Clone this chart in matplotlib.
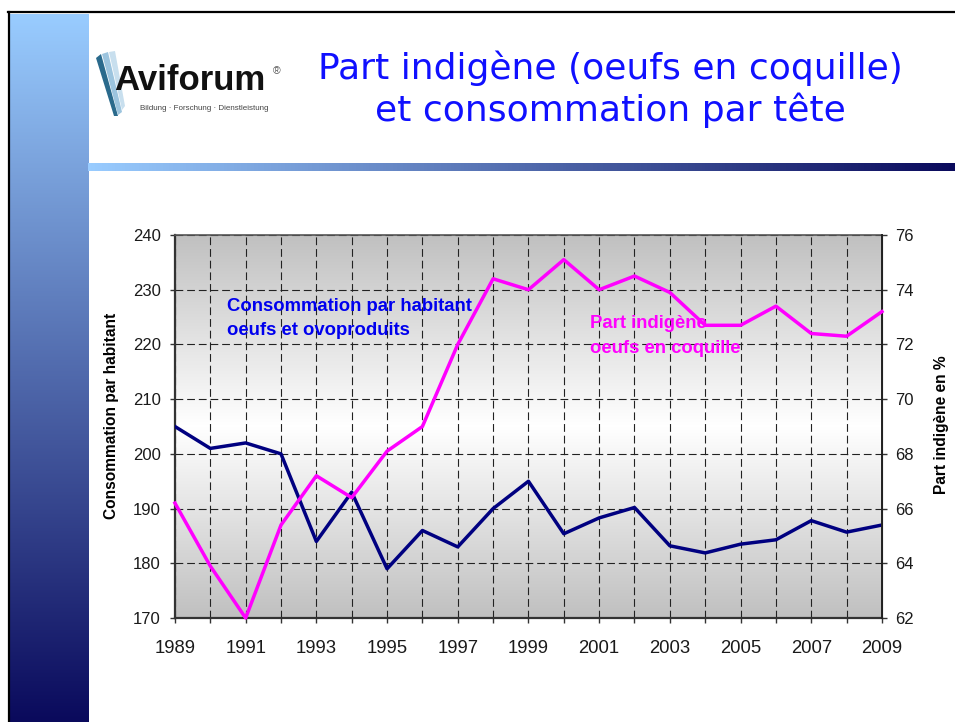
import numpy as np
import matplotlib
matplotlib.use("Agg")
import matplotlib.pyplot as plt
from matplotlib.colors import LinearSegmentedColormap
from matplotlib.patches import Polygon

# data
years = list(range(1989, 2010))
consommation = [205, 201, 202, 200, 184, 193, 179, 186, 183, 190, 195,
                185.4, 188.3, 190.2, 183.2, 181.9, 183.5, 184.3, 187.8, 185.7, 187]
part_indigene = [66.2, 63.9, 62.0, 65.4, 67.2, 66.4, 68.1, 69.0, 72.0, 74.4, 74.0,
                 75.1, 74.0, 74.5, 73.9, 72.7, 72.7, 73.4, 72.4, 72.3, 73.2]
left_ticks = [170, 180, 190, 200, 210, 220, 230, 240]
right_ticks = [62, 64, 66, 68, 70, 72, 74, 76]
xtick_labels = [str(y) if y % 2 == 1 else "" for y in years]

title_1 = "Part indigène (oeufs en coquille)"
title_2 = "et consommation par tête"

plt.rcParams["font.family"] = ["Liberation Sans", "DejaVu Sans"]

fig = plt.figure(figsize=(9.55, 7.22), dpi=100)

# slide background, in pixel coordinates
bg = fig.add_axes([0, 0, 1, 1], zorder=-1)
bar_cmap = LinearSegmentedColormap.from_list("bar", ["#99CCFF", "#0A0A5C"])
grad = np.linspace(0, 1, 256)
bg.imshow(grad.reshape(-1, 1), extent=[10, 88, 722, 14], cmap=bar_cmap, aspect="auto")
bg.imshow(grad.reshape(1, -1), extent=[88, 955, 171, 163], cmap=bar_cmap, aspect="auto")
bg.plot([8, 955], [12, 12], color="black", lw=1.6)
bg.plot([9, 9], [12, 722], color="black", lw=1.6)

# logo mark
for pts, col in [
    ([(96, 58), (101, 54), (118, 116), (114, 116)], "#2A6A8C"),
    ([(102, 54), (108, 52), (122, 112), (118, 115)], "#9CC4DE"),
    ([(109, 52), (115, 51), (125, 106), (122, 110)], "#C8DFEE"),
]:
    bg.add_patch(Polygon(pts, closed=True, color=col, lw=0))
bg.text(114, 90, "Aviforum", fontsize=25, fontweight="bold", color="#111111",
        ha="left", va="baseline")
bg.text(277, 71, "®", fontsize=7.5, color="#555555", ha="center", va="center")
bg.text(204, 108, "Bildung · Forschung · Dienstleistung", fontsize=5.8,
        color="#444444", ha="center", va="center")

bg.text(610, 68, title_1, family="DejaVu Sans", fontsize=26, color="#1010FF",
        ha="center", va="center")
bg.text(610, 110, title_2, family="DejaVu Sans", fontsize=26, color="#1010FF",
        ha="center", va="center")

bg.set_xlim(0, 955)
bg.set_ylim(722, 0)
bg.axis("off")

# chart
ax = fig.add_axes([0.1832, 0.1440, 0.7403, 0.5305])
shade = np.abs(np.linspace(-1, 1, 256)).reshape(-1, 1)
gray_cmap = LinearSegmentedColormap.from_list("plot", ["#FFFFFF", "#C0C0C0"])
ax.imshow(shade, extent=[1989, 2009, 170, 240], cmap=gray_cmap, aspect="auto", zorder=0)
ax.plot(years, consommation, color="#000080", lw=2.5, zorder=3)
ax.set_xlim(1989, 2009)
ax.set_ylim(170, 240)
ax.set_xticks(years)
ax.set_xticklabels(xtick_labels, fontsize=13.3)
ax.set_yticks(left_ticks)
ax.tick_params(axis="y", labelsize=12, pad=6.5)
ax.tick_params(axis="x", pad=12)
ax.tick_params(direction="out", length=3.6, width=1, color="#333333", labelcolor="#1A1A1A")
ax.grid(True, color="#222222", lw=0.8, dashes=(7, 3.5))
ax.set_ylabel("Consommation par habitant", fontsize=11.2, fontweight="bold")
ax.yaxis.set_label_coords(-0.079, 0.527)
for s in ["left", "bottom"]:
    ax.spines[s].set_color("#333333")
    ax.spines[s].set_linewidth(1.6)
ax.spines["top"].set_color("#555555")
ax.spines["top"].set_linewidth(1.2)

ax2 = ax.twinx()
ax2.plot(years, part_indigene, color="#FF00FF", lw=2.5, clip_on=False, zorder=3)
ax2.set_ylim(62, 76)
ax2.set_yticks(right_ticks)
ax2.tick_params(direction="out", length=3.6, width=1, color="#333333",
                labelcolor="#1A1A1A", labelsize=12, pad=6)
ax2.set_ylabel("Part indigène en %", fontsize=11.2, fontweight="bold", rotation=90)
ax2.yaxis.set_label_coords(1.074, 0.504)
for s in ["left", "top", "bottom"]:
    ax2.spines[s].set_visible(False)
ax2.spines["right"].set_color("#222222")
ax2.spines["right"].set_linewidth(1.4)

ax.text(0.0735, 0.813, "Consommation par habitant", transform=ax.transAxes,
        color="#0000EE", fontsize=13.3, fontweight="bold", va="center", zorder=5)
ax.text(0.0735, 0.752, "oeufs et ovoproduits", transform=ax.transAxes,
        color="#0000EE", fontsize=13.3, fontweight="bold", va="center", zorder=5)
ax2.text(0.587, 0.768, "Part indigène", transform=ax2.transAxes,
         color="#FF00FF", fontsize=13.3, fontweight="bold", va="center", zorder=5)
ax2.text(0.587, 0.705, "oeufs en coquille", transform=ax2.transAxes,
         color="#FF00FF", fontsize=13.3, fontweight="bold", va="center", zorder=5)

fig.savefig("out.png", dpi=100)
